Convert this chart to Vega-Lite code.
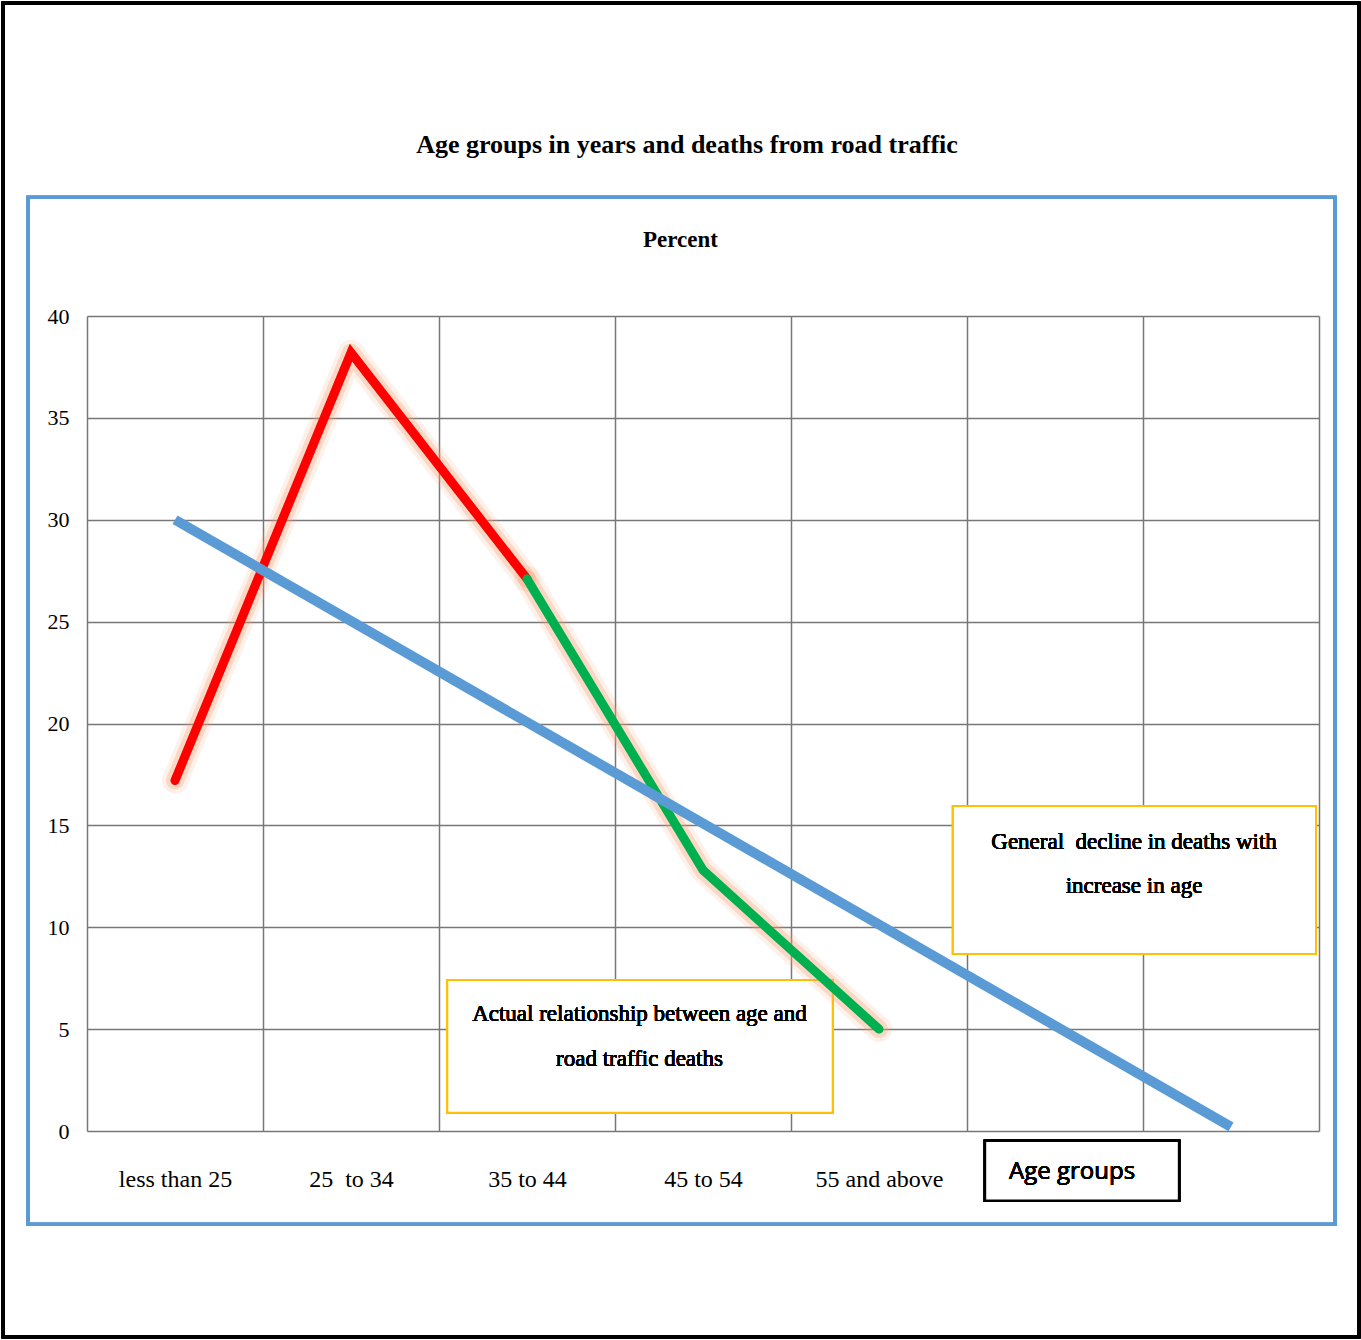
{
  "$schema": "https://vega.github.io/schema/vega-lite/v6.json",
  "width": 1232,
  "height": 815,
  "autosize": {"type": "none"},
  "padding": {"left": 87, "top": 316, "right": 42, "bottom": 209},
  "background": "white",
  "title": {
    "text": "Age groups in years and deaths from road traffic",
    "font": "Liberation Serif",
    "fontSize": 26,
    "fontWeight": "bold",
    "color": "black",
    "anchor": "middle",
    "frame": "group",
    "baseline": "alphabetic",
    "offset": -177,
    "dx": -16
  },
  "data": {
    "values": [
      {"age": "less than 25", "group": 1, "percent": 17.2, "series": "Rising"},
      {"age": "25  to 34", "group": 2, "percent": 38.2, "series": "Rising"},
      {"age": "35 to 44", "group": 3, "percent": 27.1, "series": "Rising"},
      {"age": "35 to 44", "group": 3, "percent": 27.1, "series": "Declining"},
      {"age": "45 to 54", "group": 4, "percent": 12.8, "series": "Declining"},
      {"age": "55 and above", "group": 5, "percent": 5.0, "series": "Declining"},
      {"age": "less than 25", "group": 1, "percent": 30.0, "series": "Trend"},
      {"age": "", "group": 7, "percent": 0.2, "series": "Trend"}
    ]
  },
  "encoding": {
    "x": {
      "field": "group",
      "type": "quantitative",
      "scale": {"domain": [0.5, 7.5], "nice": false, "zero": false},
      "axis": {
        "title": null,
        "values": [0.5, 1, 1.5, 2, 2.5, 3, 3.5, 4, 4.5, 5, 5.5, 6, 6.5, 7, 7.5],
        "grid": true,
        "gridColor": "#777777",
        "gridWidth": 1.5,
        "gridOpacity": {"condition": {"test": "datum.value % 1 != 0", "value": 1}, "value": 0},
        "ticks": false,
        "domain": false,
        "labelOverlap": false,
        "labelFlush": false,
        "labelExpr": "datum.value == 1 ? 'less than 25' : datum.value == 2 ? '25\u00a0 to 34' : datum.value == 3 ? '35 to 44' : datum.value == 4 ? '45 to 54' : datum.value == 5 ? '55 and above' : ''",
        "labelFont": "Liberation Serif",
        "labelFontSize": 24,
        "labelColor": "black",
        "labelBaseline": "alphabetic",
        "labelPadding": 55
      }
    },
    "y": {
      "field": "percent",
      "type": "quantitative",
      "scale": {"domain": [0, 40], "nice": false, "zero": false},
      "axis": {
        "title": "Percent",
        "titleAngle": 0,
        "titleX": 593,
        "titleY": -77,
        "titleAlign": "center",
        "titleBaseline": "middle",
        "titleFont": "Liberation Serif",
        "titleFontSize": 23,
        "titleFontWeight": "bold",
        "titleColor": "black",
        "values": [0, 5, 10, 15, 20, 25, 30, 35, 40],
        "grid": true,
        "gridColor": "#777777",
        "gridWidth": 1.5,
        "ticks": false,
        "domain": false,
        "labelFont": "Liberation Serif",
        "labelFontSize": 22,
        "labelColor": "black",
        "labelPadding": 18,
        "labelBaseline": "middle"
      }
    }
  },
  "layer": [
    {
      "mark": {"type": "rect", "filled": false, "stroke": "black", "strokeWidth": 3},
      "encoding": {
        "x": {"datum": 0.023, "type": "quantitative"},
        "x2": {"datum": 7.727},
        "y": {"datum": 55.36, "type": "quantitative"},
        "y2": {"datum": -10.11}
      }
    },
    {
      "mark": {"type": "rect", "filled": false, "stroke": "#5B9BD5", "strokeWidth": 3},
      "encoding": {
        "x": {"datum": 0.165, "type": "quantitative"},
        "x2": {"datum": 7.591},
        "y": {"datum": 45.83, "type": "quantitative"},
        "y2": {"datum": -4.58}
      }
    },
    {
      "mark": {"type": "rect", "fill": "white", "stroke": "#FFC000", "strokeWidth": 2},
      "encoding": {
        "x": {"datum": 5.42, "type": "quantitative"},
        "x2": {"datum": 7.483},
        "y": {"datum": 15.95, "type": "quantitative"},
        "y2": {"datum": 8.687}
      }
    },
    {
      "mark": {"type": "rect", "fill": "white", "stroke": "#FFC000", "strokeWidth": 2},
      "encoding": {
        "x": {"datum": 2.547, "type": "quantitative"},
        "x2": {"datum": 4.737},
        "y": {"datum": 7.411, "type": "quantitative"},
        "y2": {"datum": 0.898}
      }
    },
    {
      "mark": {"type": "rect", "fill": "white", "stroke": "black", "strokeWidth": 2.5},
      "encoding": {
        "x": {"datum": 5.602, "type": "quantitative"},
        "x2": {"datum": 6.705},
        "y": {"datum": -0.476, "type": "quantitative"},
        "y2": {"datum": -3.42}
      }
    },
    {
      "transform": [{"filter": "datum.series != 'Trend'"}],
      "mark": {"type": "line", "color": "#F6A070", "strokeWidth": 26, "opacity": 0.15, "strokeCap": "round", "strokeJoin": "round"},
      "encoding": {"detail": {"field": "series"}}
    },
    {
      "transform": [{"filter": "datum.series != 'Trend'"}],
      "mark": {"type": "line", "color": "#F6A070", "strokeWidth": 18, "opacity": 0.3, "strokeCap": "round", "strokeJoin": "round"},
      "encoding": {"detail": {"field": "series"}}
    },
    {
      "transform": [{"filter": "datum.series != 'Trend'"}],
      "mark": {"type": "line", "strokeWidth": 9, "strokeCap": "round", "strokeJoin": "miter"},
      "encoding": {
        "color": {
          "field": "series",
          "type": "nominal",
          "scale": {"domain": ["Rising", "Declining", "Trend"], "range": ["#FF0000", "#00B050", "#5B9BD5"]},
          "legend": null
        }
      }
    },
    {
      "transform": [{"filter": "datum.series == 'Trend'"}],
      "mark": {"type": "line", "strokeWidth": 10, "strokeCap": "butt"},
      "encoding": {
        "color": {
          "field": "series",
          "type": "nominal",
          "scale": {"domain": ["Rising", "Declining", "Trend"], "range": ["#FF0000", "#00B050", "#5B9BD5"]},
          "legend": null
        }
      }
    },
    {
      "mark": {"type": "text", "text": ["General\u00a0 decline in deaths with", "increase in age"], "font": "Liberation Serif", "fontSize": 23, "lineHeight": 44, "align": "center", "baseline": "alphabetic", "color": "black"},
      "encoding": {
        "x": {"datum": 6.449, "type": "quantitative"},
        "y": {"datum": 13.85, "type": "quantitative"}
      }
    },
    {
      "mark": {"type": "text", "text": ["Actual relationship between age and", "road traffic deaths"], "font": "Liberation Serif", "fontSize": 23, "lineHeight": 45, "align": "center", "baseline": "alphabetic", "color": "black"},
      "encoding": {
        "x": {"datum": 3.639, "type": "quantitative"},
        "y": {"datum": 5.4, "type": "quantitative"}
      }
    },
    {
      "mark": {"type": "text", "text": "Age groups", "font": "Open Sans", "fontSize": 24, "align": "center", "baseline": "alphabetic", "color": "black"},
      "encoding": {
        "x": {"datum": 6.097, "type": "quantitative"},
        "y": {"datum": -2.37, "type": "quantitative"}
      }
    }
  ],
  "config": {
    "view": {"stroke": null}
  }
}
